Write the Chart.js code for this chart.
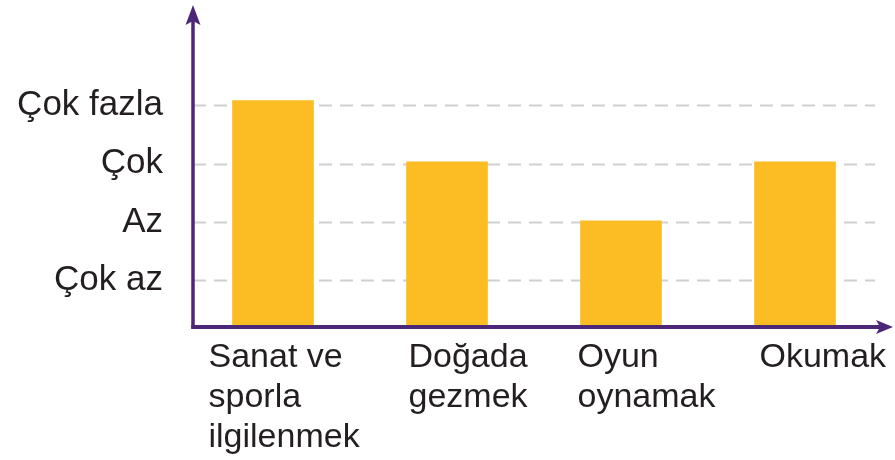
<!DOCTYPE html>
<html>
<head>
<meta charset="utf-8">
<script src="https://cdn.jsdelivr.net/npm/chart.js@4"></script>
<style>
  html, body { margin: 0; padding: 0; background: #fff; }
  #wrap { width: 895px; height: 460px; }
</style>
</head>
<body>
<div id="wrap"><canvas id="myChart"></canvas></div>
<script>
const categories = [
  ['Sanat ve', 'sporla', 'ilgilenmek'],
  ['Doğada', 'gezmek'],
  ['Oyun', 'oynamak'],
  ['Okumak']
];
const values = [4.08, 3.03, 2.02, 3.03];
const levelTicks = [1, 2, 3, 4];
const levelLabels = ['Çok az', 'Az', 'Çok', 'Çok fazla'];

const yMin = 0.2;
const yMax = 5.72;
const axisColor = '#4d2777';
const textColor = '#231f20';
const fontFamily = '"Liberation Sans", Arial, sans-serif';
const labelShift = [-24, 2, -3, 5];
const axisInset = 7;
const barW = 81;

const axesPlugin = {
  id: 'axes',
  beforeDatasetsDraw(chart) {
    const { ctx, chartArea, scales } = chart;
    const ax = chartArea.left + axisInset;
    ctx.save();
    ctx.strokeStyle = '#cfd0d2';
    ctx.lineWidth = 2;
    ctx.setLineDash([13, 8]);
    levelTicks.forEach(v => {
      const y = Math.round(scales.y.getPixelForValue(v)) + 0.5;
      ctx.beginPath();
      ctx.moveTo(ax, y);
      ctx.lineTo(chartArea.right - 7, y);
      ctx.stroke();
    });
    ctx.restore();
  },
  afterDraw(chart) {
    const { ctx, chartArea, scales } = chart;
    const ax = chartArea.left + axisInset;
    const ay = chartArea.bottom;
    ctx.save();
    ctx.strokeStyle = axisColor;
    ctx.fillStyle = axisColor;
    ctx.lineWidth = 3.5;
    // y axis
    ctx.beginPath();
    ctx.moveTo(ax, ay + 1.5);
    ctx.lineTo(ax, chartArea.top + 12);
    ctx.stroke();
    ctx.beginPath();
    ctx.moveTo(ax, chartArea.top);
    ctx.lineTo(ax - 7.5, chartArea.top + 20);
    ctx.lineTo(ax, chartArea.top + 16);
    ctx.lineTo(ax + 7.5, chartArea.top + 20);
    ctx.closePath();
    ctx.fill();
    // x axis
    const xEnd = chartArea.right + 11;
    ctx.lineWidth = 4;
    ctx.beginPath();
    ctx.moveTo(ax - 1.75, ay);
    ctx.lineTo(xEnd - 10, ay);
    ctx.stroke();
    ctx.beginPath();
    ctx.moveTo(xEnd, ay);
    ctx.lineTo(xEnd - 17, ay - 7);
    ctx.lineTo(xEnd - 13, ay);
    ctx.lineTo(xEnd - 17, ay + 7);
    ctx.closePath();
    ctx.fill();

    // category labels, left aligned
    ctx.fillStyle = textColor;
    ctx.font = '34px ' + fontFamily;
    ctx.textAlign = 'left';
    ctx.textBaseline = 'alphabetic';
    categories.forEach((lines, i) => {
      const x = scales.x.getPixelForValue(i) - barW / 2 + labelShift[i];
      lines.forEach((t, k) => {
        ctx.fillText(t, x, ay + 40 + k * 40);
      });
    });
    ctx.restore();
  }
};

new Chart(document.getElementById('myChart'), {
  type: 'bar',
  data: {
    labels: categories.map(c => c.join(' ')),
    datasets: [{
      data: values,
      backgroundColor: '#fbbd23',
      borderWidth: 0,
      barThickness: barW,
      base: yMin
    }]
  },
  options: {
    responsive: true,
    maintainAspectRatio: false,
    animation: false,
    layout: { padding: { top: 5, right: 13, left: 0, bottom: 0 } },
    plugins: {
      legend: { display: false },
      tooltip: { enabled: false }
    },
    scales: {
      x: {
        offset: true,
        grid: { display: false, drawTicks: false },
        border: { display: false },
        ticks: { display: false },
        afterFit: (s) => { s.height = 133; s.paddingLeft = 0; s.paddingRight = 0; }
      },
      y: {
        min: yMin,
        max: yMax,
        grid: { display: false, drawTicks: false },
        border: { display: false },
        afterBuildTicks: (s) => { s.ticks = levelTicks.map(v => ({ value: v })); },
        afterFit: (s) => { s.width = 186; s.paddingTop = 0; s.paddingBottom = 0; },
        ticks: {
          padding: 23,
          color: textColor,
          font: { family: fontFamily, size: 35 },
          callback: (v) => levelLabels[levelTicks.indexOf(v)]
        }
      }
    }
  },
  plugins: [axesPlugin]
});
</script>
</body>
</html>
